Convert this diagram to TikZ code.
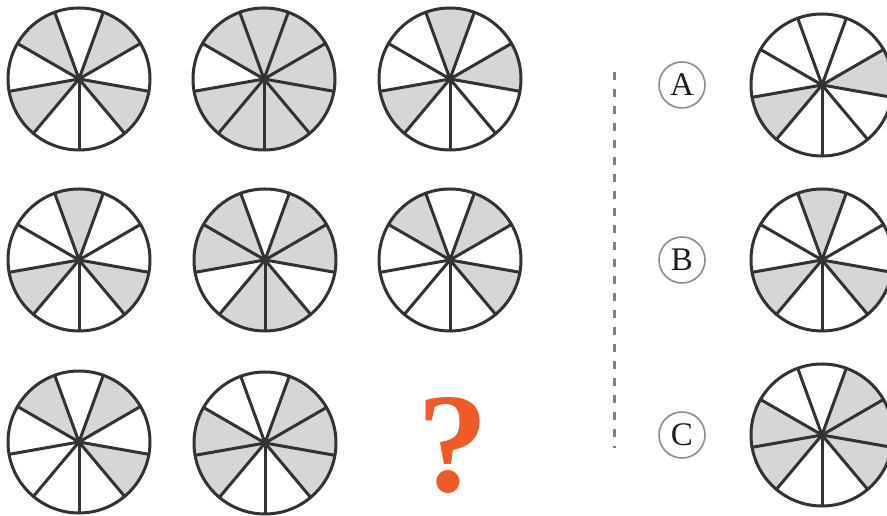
\documentclass[tikz,border=0pt]{standalone}
\usepackage{fontspec}
\setmainfont{Liberation Serif}
\begin{document}
\begin{tikzpicture}[x=1pt,y=1pt,
  sectorfill/.style={fill={rgb,255:red,214;green,214;blue,214}},
  spoke/.style={draw={rgb,255:red,51;green,51;blue,51},line width=3pt,line cap=round},
  rim/.style={draw={rgb,255:red,51;green,51;blue,51},line width=3pt},
  letterbox/.style={circle,draw={rgb,255:red,140;green,140;blue,140},line width=1.6pt,minimum size=46pt,inner sep=0pt,font=\fontsize{33}{33}\selectfont,text={rgb,255:red,30;green,30;blue,30}},
  divider/.style={draw={rgb,255:red,128;green,128;blue,128},line width=3pt,dash pattern=on 8pt off 9pt}
]
\useasboundingbox (0,0) rectangle (887,516);
\def\R{71}
\newcommand\wheel[3]{%
  \coordinate (#1) at #2;
  \foreach \s in {#3} {
    \fill[sectorfill] (#1) -- ++({30+40*\s}:\R) arc[start angle={30+40*\s}, end angle={70+40*\s}, radius=\R] -- cycle;
  }
  \foreach \a in {30,70,...,350} \draw[spoke] (#1) -- ++(\a:\R);
  \draw[rim] (#1) circle[radius=\R];
}
% grid
\wheel{w1}{(79,437)}{0,2,4,7}
\wheel{w2}{(264,437)}{0,1,2,4,5,6,7,8}
\wheel{w3}{(450,437)}{1,4,8}
\wheel{w4}{(79,256)}{1,4,7}
\wheel{w5}{(265,256)}{0,2,3,5,6,8}
\wheel{w6}{(450,256)}{0,2,7}
\wheel{w7}{(79,74)}{0,2,7}
\wheel{w8}{(265,73)}{0,3,4,7,8}
% options
\wheel{oa}{(822,431)}{4,8}
\wheel{ob}{(822,256)}{1,4,7}
\wheel{oc}{(822,81)}{0,3,4,7,8}
% question mark
\node[anchor=base,inner sep=0pt,font=\fontsize{142}{142}\selectfont\bfseries,text={rgb,255:red,240;green,90;blue,40}] (q) at (453,24) {?};
% divider
\coordinate (d1) at (614,444);
\coordinate (d2) at (614,68);
\draw[divider] (d1) -- (d2);
% letters
\node[letterbox] (la) at (682,431) {A};
\node[letterbox] (lb) at (682,256) {B};
\node[letterbox] (lc) at (682,81) {C};
\end{tikzpicture}
\end{document}
